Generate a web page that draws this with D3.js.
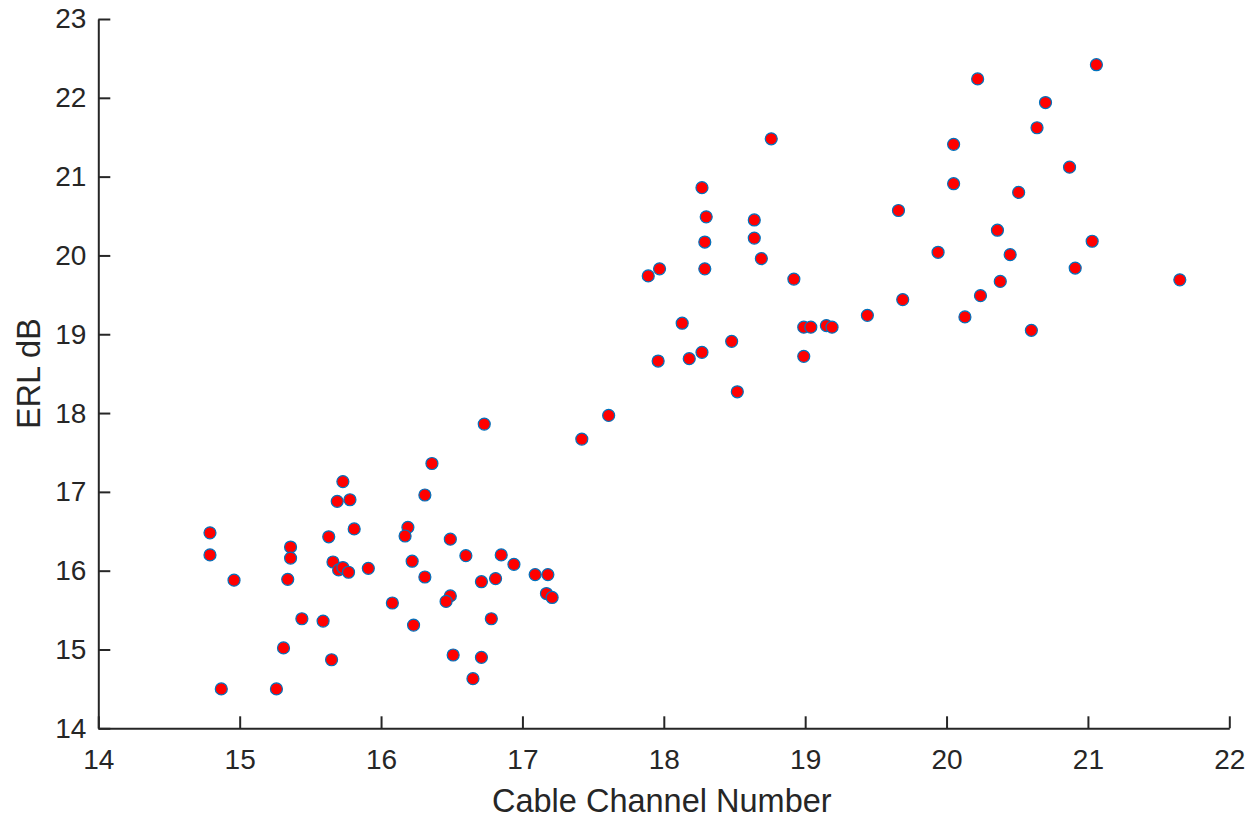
<!DOCTYPE html>
<html>
<head>
    <meta charset='utf-8'>
    <title>ERL vs Cable Channel</title>
    <style>
    body {
      margin: 0;
      background: #fff;
      font-family: 'Liberation Sans', Arial, sans-serif;
    }
    text {
      fill: #262626;
    }
    </style>
    <script src='https://d3js.org/d3.v7.min.js'></script>
</head>
<body>
<div id="container"></div>
<script>
// ******* Data *******
const channel = [
  15.73, 15.69, 15.78, 14.79, 15.81, 15.63, 14.79, 15.36, 15.36, 15.66,
  15.70, 15.73, 15.77, 15.91, 14.96, 15.34, 15.44, 15.59, 15.31, 15.65,
  14.87, 15.26,
  16.73, 16.36, 16.31, 16.19, 16.17, 16.49, 16.60, 16.85, 16.94, 16.22,
  16.31, 16.71, 16.81, 17.09, 17.18, 17.17, 17.21, 16.49, 16.46, 16.08,
  16.23, 16.78, 16.51, 16.71, 16.65,
  18.76, 18.27, 18.30, 18.64, 18.64, 18.29, 18.69, 17.97, 17.89, 18.29,
  18.92, 18.13, 18.99, 19.04, 19.15, 19.19, 18.48, 17.96, 18.18, 18.27,
  18.99, 18.52, 17.61, 17.42,
  21.06, 20.22, 20.70, 20.64, 20.05, 20.87, 20.05, 20.51, 19.66, 20.36,
  21.03, 19.94, 20.45, 20.91, 21.65, 20.38, 19.69, 20.24, 19.44, 20.13,
  20.60
];
const erl = [
  17.13, 16.88, 16.90, 16.48, 16.53, 16.43, 16.20, 16.30, 16.16, 16.11,
  16.01, 16.04, 15.98, 16.03, 15.88, 15.89, 15.39, 15.36, 15.02, 14.87,
  14.50, 14.50,
  17.86, 17.36, 16.96, 16.55, 16.44, 16.40, 16.19, 16.20, 16.08, 16.12,
  15.92, 15.86, 15.90, 15.95, 15.95, 15.71, 15.66, 15.68, 15.61, 15.59,
  15.31, 15.39, 14.93, 14.90, 14.63,
  21.48, 20.86, 20.49, 20.45, 20.22, 20.17, 19.96, 19.83, 19.74, 19.83,
  19.70, 19.14, 19.09, 19.09, 19.11, 19.09, 18.91, 18.66, 18.69, 18.77,
  18.72, 18.27, 17.97, 17.67,
  22.42, 22.24, 21.94, 21.62, 21.41, 21.12, 20.91, 20.80, 20.57, 20.32,
  20.18, 20.04, 20.01, 19.84, 19.69, 19.67, 19.44, 19.49, 19.24, 19.22,
  19.05
];
const xTicks = [14, 15, 16, 17, 18, 19, 20, 21, 22];
const yTicks = [14, 15, 16, 17, 18, 19, 20, 21, 22, 23];

// ******* Constants *******
const width = 1249,
      height = 818,
      plotLeft = 98.3,
      plotRight = 1229.3,
      plotTop = 19,
      plotBottom = 728.3,
      tickFont = 28,
      labelFont = 32.5;

// ******* Set Scales *******
var x = d3.scaleLinear()
    .domain([14, 22])
    .range([plotLeft, plotRight]);
var y = d3.scaleLinear()
    .domain([14, 23])
    .range([plotBottom, plotTop]);

// ******* Create SVG *******
var svg = d3.select("#container").append("svg")
    .attr("width", width)
    .attr("height", height)
    .style("display", "block");

// ******* Axes *******
svg.append("g")
    .attr("transform", "translate(0," + plotBottom + ")")
    .call(d3.axisBottom(x)
        .tickValues(xTicks)
        .tickFormat(d3.format("d"))
        .tickSizeInner(-12)
        .tickSizeOuter(0)
        .tickPadding(21));

svg.append("g")
    .attr("transform", "translate(" + plotLeft + ",0)")
    .call(d3.axisLeft(y)
        .tickValues(yTicks)
        .tickFormat(d3.format("d"))
        .tickSizeInner(-12)
        .tickSizeOuter(0)
        .tickPadding(12));

svg.selectAll(".domain, .tick line")
    .attr("stroke", "#262626")
    .attr("stroke-width", 2);

svg.selectAll(".tick text")
    .attr("font-family", "'Liberation Sans', Arial, sans-serif")
    .attr("font-size", tickFont)
    .attr("fill", "#262626");

// ******* Axis labels *******
svg.append("text")
    .attr("x", (plotLeft + plotRight) / 2 - 2)
    .attr("y", 812)
    .attr("text-anchor", "middle")
    .attr("font-size", labelFont)
    .text("Cable Channel Number");

svg.append("text")
    .attr("transform", "translate(40," + (plotTop + plotBottom) / 2 + ") rotate(-90)")
    .attr("text-anchor", "middle")
    .attr("font-size", labelFont)
    .text("ERL dB");

// ******* Points *******
svg.append("g")
    .selectAll("circle")
    .data(channel)
    .enter()
    .append("circle")
    .attr("cx", function(d) {return x(d)})
    .attr("cy", function(d, i) {return y(erl[i])})
    .attr("r", 6)
    .attr("fill", "#ff0000")
    .attr("stroke", "#0072bd")
    .attr("stroke-width", 1.2);
</script>
</body>
</html>
